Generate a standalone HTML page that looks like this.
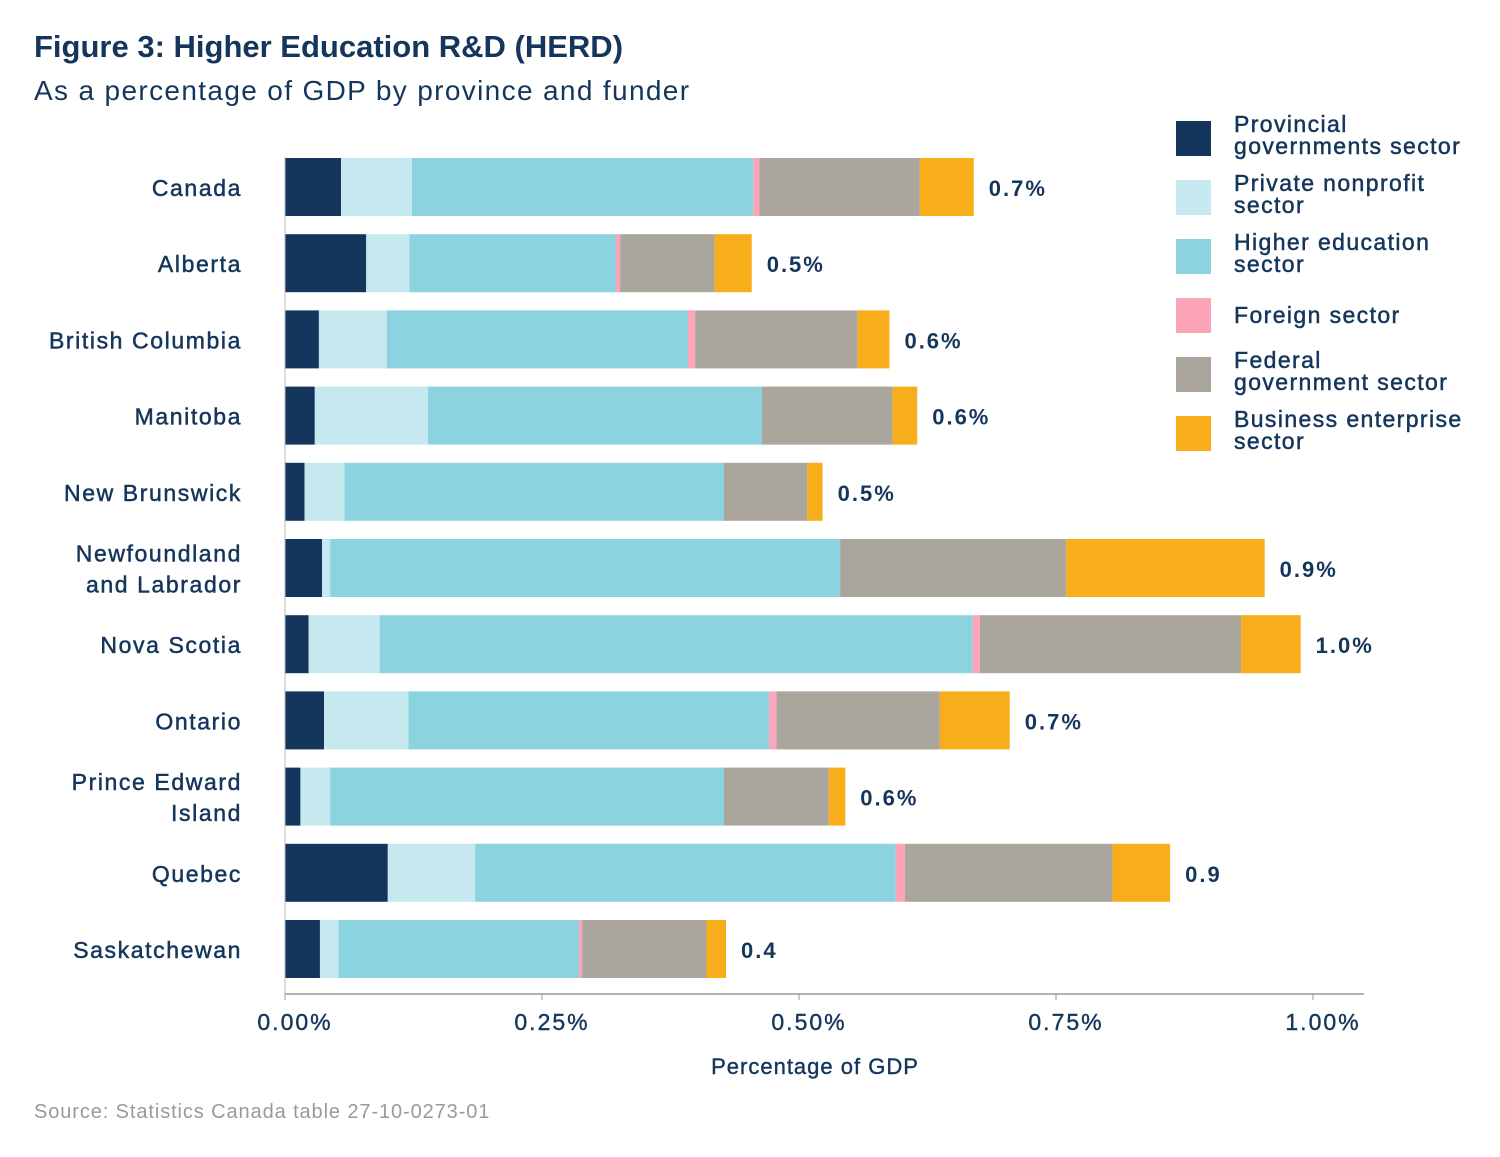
<!DOCTYPE html>
<html><head><meta charset="utf-8">
<style>
body{margin:0;background:#fff;font-family:"Liberation Sans","DejaVu Sans",sans-serif;}
svg text{font-family:"Liberation Sans","DejaVu Sans",sans-serif;}
</style></head>
<body>
<svg id="chart" width="1500" height="1152" xmlns="http://www.w3.org/2000/svg">
<text x="34" y="57" font-size="31" font-weight="bold" fill="#15365c">Figure 3: Higher Education R&amp;D (HERD)</text>
<text x="34" y="100" font-size="28" fill="#15365c" letter-spacing="1.35">As a percentage of GDP by province and funder</text>
<text x="34" y="1118" font-size="20" fill="#9a9a9a" letter-spacing="0.9">Source: Statistics Canada table 27-10-0273-01</text>
<text x="815" y="1074" font-size="22" fill="#15365c" text-anchor="middle" letter-spacing="1" stroke="#15365c" stroke-width="0.4">Percentage of GDP</text>
<g id="bars"></g><g id="axes"></g><g id="legend"></g>
</svg>
<script>
const categories=["Canada","Alberta","British Columbia","Manitoba","New Brunswick","Newfoundland|and Labrador","Nova Scotia","Ontario","Prince Edward|Island","Quebec","Saskatchewan"];
const provincial=[0.0545,0.079,0.033,0.029,0.019,0.036,0.023,0.038,0.015,0.100,0.034];
const privateNP=[0.069,0.042,0.066,0.110,0.039,0.008,0.069,0.082,0.029,0.085,0.018];
const higherEd=[0.332,0.201,0.293,0.325,0.369,0.496,0.577,0.351,0.383,0.409,0.234];
const foreign=[0.006,0.004,0.007,0,0,0,0.007,0.007,0,0.009,0.003];
const federal=[0.156,0.092,0.158,0.127,0.081,0.220,0.254,0.159,0.102,0.202,0.121];
const business=[0.0525,0.036,0.031,0.024,0.015,0.193,0.058,0.068,0.016,0.056,0.019];
const totalLabels=["0.7%","0.5%","0.6%","0.6%","0.5%","0.9%","1.0%","0.7%","0.6%","0.9","0.4"];
const tickValues=[0,0.25,0.5,0.75,1.0];
const tickLabels=["0.00%","0.25%","0.50%","0.75%","1.00%"];
const seriesNames=["Provincial|governments sector","Private nonprofit|sector","Higher education|sector","Foreign sector","Federal|government sector","Business enterprise|sector"];
const colors=["#15365c","#c5e9ee","#8bd3de","#fca5b8","#aaa59d","#f8ae1a"];
const series=[provincial,privateNP,higherEd,foreign,federal,business];
const NS="http://www.w3.org/2000/svg";
const x=v=>285+v*1028;
const yc=i=>187+i*76.2;
const bh=58;
function mk(tag,attrs,parent){const e=document.createElementNS(NS,tag);for(const k in attrs)e.setAttribute(k,attrs[k]);parent.appendChild(e);return e;}
const gb=document.getElementById('bars'),ga=document.getElementById('axes'),gl=document.getElementById('legend');
categories.forEach((c,i)=>{
  let acc=0;
  series.forEach((s,j)=>{
    const r=mk('rect',{x:x(acc),y:yc(i)-bh/2,width:Math.max(0,x(acc+s[i])-x(acc)),height:bh,fill:colors[j]},gb);
    
    
    acc+=s[i];
  });
  const t=mk('text',{x:x(acc)+15,y:yc(i)+9,'font-size':22,'font-weight':'bold',fill:'#15365c','letter-spacing':2},gb);
  t.textContent=totalLabels[i];
  
  
  const lines=c.split('|');
  lines.forEach((ln,k)=>{
    const l=mk('text',{x:242,y:yc(i)+9+(k-(lines.length-1)/2)*31,'font-size':23,fill:'#15365c','text-anchor':'end','letter-spacing':1.6,stroke:'#15365c','stroke-width':0.5},ga);
    l.textContent=ln;
    
    
  });
});
let a=mk('line',{x1:285,y1:157,x2:285,y2:994,stroke:'#bbb','stroke-width':1},ga);


a=mk('line',{x1:285,y1:994,x2:1364,y2:994,stroke:'#999','stroke-width':1.5},ga);


tickValues.forEach((v,i)=>{
  const tk=mk('line',{x1:x(v),y1:994,x2:x(v),y2:1000,stroke:'#999'},ga);
  
  
  const t=mk('text',{x:x(v)+10,y:1030,'font-size':23,fill:'#15365c','text-anchor':'middle','letter-spacing':2,stroke:'#15365c','stroke-width':0.4},ga);
  t.textContent=tickLabels[i];
  
  
});
seriesNames.forEach((n,i)=>{
  const y0=121+i*59;
  const r=mk('rect',{x:1176,y:y0,width:35,height:35,fill:colors[i]},gl);
  
  
  const lines=n.split('|');
  lines.forEach((ln,k)=>{
    const t=mk('text',{x:1234,y:(lines.length>1?y0+11:y0+25)+k*22,'font-size':23,fill:'#15365c','letter-spacing':1.4,stroke:'#15365c','stroke-width':0.5},gl);
    t.textContent=ln;
    
    
  });
});
</script>
</body></html>
